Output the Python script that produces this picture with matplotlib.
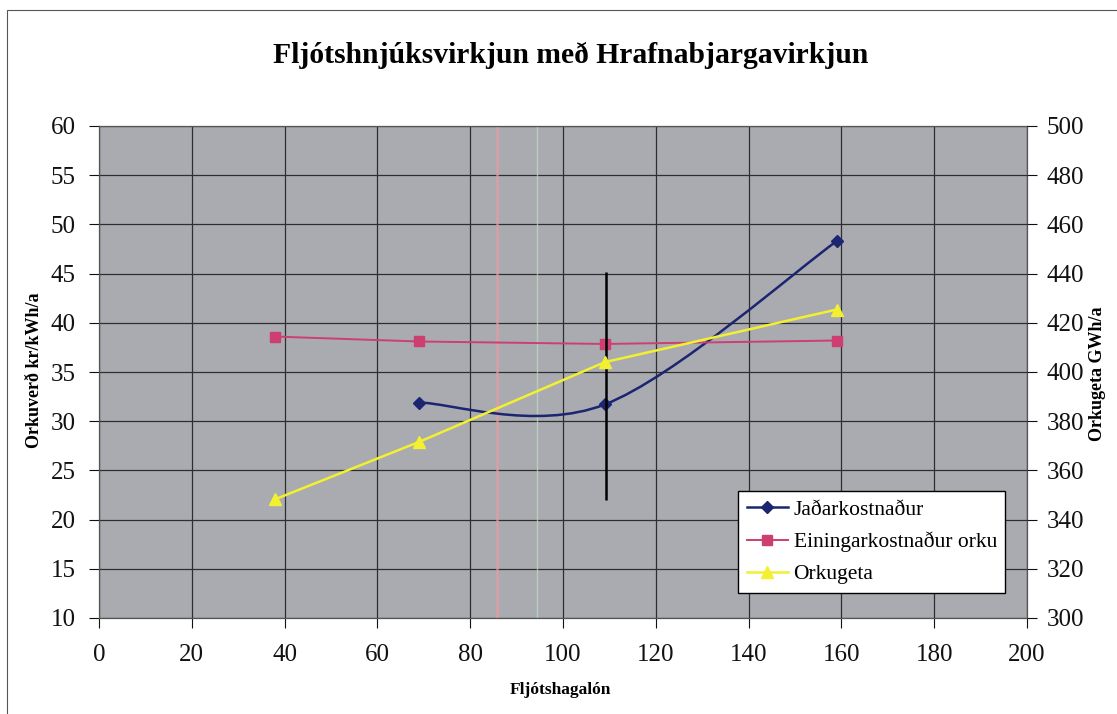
import matplotlib
matplotlib.use("Agg")
import matplotlib.pyplot as plt
import numpy as np
from matplotlib.path import Path
from matplotlib.patches import PathPatch, Rectangle
from matplotlib.lines import Line2D

# data
x_jadar = [69, 109, 159]
jadar = [31.9, 31.7, 48.3]            # kr/kWh/a (left axis)

x_eining = [38, 69, 109, 159]
eining = [38.6, 38.1, 37.85, 38.2]    # kr/kWh/a (left axis)

x_orka = [38, 69, 109, 159]
orkugeta = [348.3, 371.6, 404.0, 425.4]  # GWh/a (right axis)

# black vertical marker line at the chosen option
vline_x = 109.3
vline_range = [22.0, 45.2]

xticks = list(range(0, 201, 20))
left_ticks = list(range(10, 61, 5))
right_ticks = list(range(300, 501, 20))

plt.rcParams['font.family'] = ['Liberation Serif', 'DejaVu Serif']

C_BLUE = '#1b2570'
C_PINK = '#cc3f70'
C_YEL = '#f2f030'
C_BG = '#a9abb1'


def excel_smooth(xs, ys):
    # bezier path the way Excel draws a "smoothed line"
    pts = list(zip(xs, ys))
    verts = [pts[0]]
    codes = [Path.MOVETO]
    n = len(pts)
    for i in range(n - 1):
        p0 = pts[i - 1] if i > 0 else pts[i]
        p1 = pts[i]
        p2 = pts[i + 1]
        p3 = pts[i + 2] if i + 2 < n else pts[i + 1]
        c1 = (p1[0] + (p2[0] - p0[0]) / 6, p1[1] + (p2[1] - p0[1]) / 6)
        c2 = (p2[0] - (p3[0] - p1[0]) / 6, p2[1] - (p3[1] - p1[1]) / 6)
        verts += [c1, c2, p2]
        codes += [Path.CURVE4] * 3
    return Path(verts, codes)


fig = plt.figure(figsize=(11.17, 7.14), dpi=100)
fig.patches.append(Rectangle((7 / 1117, -0.1), 1.2, 1 - 10 / 714 + 0.1,
                             transform=fig.transFigure, fill=False,
                             edgecolor='#555555', linewidth=0.8))

ax = fig.add_axes([99 / 1117, 1 - 618 / 714, 928 / 1117, 492 / 714])
ax.set_facecolor(C_BG)
ax.set_xlim(0, 200)
ax.set_ylim(10, 60)
ax.set_xticks(xticks)
ax.set_yticks(left_ticks)
ax.grid(True, color='#2e2e2e', linewidth=0.9)
ax.set_axisbelow(True)
for s in ax.spines.values():
    s.set_color('#555555')
    s.set_linewidth(0.9)
ax.tick_params(axis='y', direction='out', length=7, width=0.8, labelsize=18, pad=10, colors='#111111')
ax.tick_params(axis='x', direction='out', length=7, width=0.8, labelsize=18, pad=12, colors='#111111')

# faint scan streaks
ax.axvline(85.7, color='#e89aa0', linewidth=2, alpha=0.7)
ax.axvline(94.5, color='#b8e0c0', linewidth=1, alpha=0.7)

ax2 = ax.twinx()
ax2.set_ylim(300, 500)
ax2.set_yticks(right_ticks)
ax2.tick_params(axis='y', direction='out', length=7, width=0.8, labelsize=18, pad=7, colors='#111111')
for s in ax2.spines.values():
    s.set_visible(False)

# Jaðarkostnaður, smoothed
ax.add_patch(PathPatch(excel_smooth(x_jadar, jadar), fill=False,
                       edgecolor=C_BLUE, linewidth=1.8, zorder=4))
ax.plot(x_jadar, jadar, linestyle='none', marker='D', markersize=6,
        color=C_BLUE, zorder=5)

ax.plot(x_eining, eining, color=C_PINK, linewidth=1.4, marker='s',
        markersize=7, zorder=4)

ax2.plot(x_orka, orkugeta, color=C_YEL, linewidth=1.8, marker='^',
         markersize=8, zorder=4)

ax.vlines(vline_x, vline_range[0], vline_range[1], color='black',
          linewidth=1.8, zorder=6)

fig.text(0.511, 1 - 55 / 714, 'Fljótshnjúksvirkjun með Hrafnabjargavirkjun',
         ha='center', va='center', fontsize=21.3, fontweight='bold')
fig.text(35 / 1117, 1 - 370 / 714, 'Orkuverð kr/kWh/a', rotation=90,
         ha='center', va='center', fontsize=13, fontweight='bold')
fig.text(1098 / 1117, 1 - 374 / 714, 'Orkugeta GWh/a', rotation=90,
         ha='center', va='center', fontsize=13, fontweight='bold')
fig.text(560 / 1117, 1 - 690 / 714, 'Fljótshagalón',
         ha='center', va='center', fontsize=12.5, fontweight='bold')

handles = [
    Line2D([], [], color=C_BLUE, linewidth=1.8, marker='D', markersize=6),
    Line2D([], [], color=C_PINK, linewidth=1.4, marker='s', markersize=7),
    Line2D([], [], color=C_YEL, linewidth=1.8, marker='^', markersize=8),
]
labels = ['Jaðarkostnaður', 'Einingarkostnaður orku', 'Orkugeta']
leg = ax2.legend(handles, labels, loc='upper left',
                 bbox_to_anchor=(0.689, 0.258),
                 fontsize=15.5, handlelength=1.9, handletextpad=0.26,
                 borderpad=0.4, labelspacing=0.55, borderaxespad=0,
                 frameon=True, fancybox=False, framealpha=1)
leg.get_frame().set_edgecolor('black')
leg.get_frame().set_linewidth(1.0)
leg.set_zorder(10)

fig.savefig('out.png', dpi=100, facecolor='white')
